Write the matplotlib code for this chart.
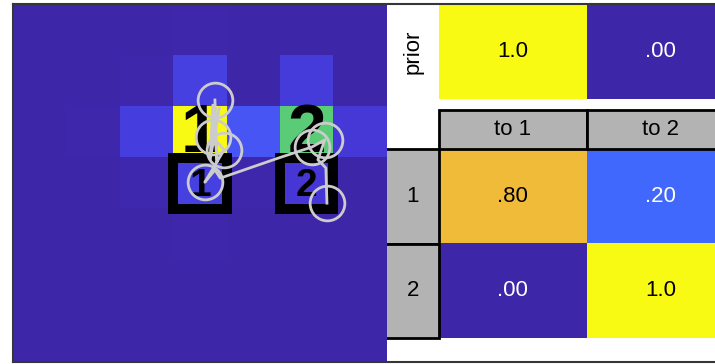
import numpy as np
import matplotlib
matplotlib.use("Agg")
import matplotlib.pyplot as plt
from matplotlib.colors import LinearSegmentedColormap
from matplotlib.patches import Rectangle

plt.rcParams['font.family'] = ['Liberation Sans', 'DejaVu Sans']

# parula-like colormap (every 4th entry of the 64 colour table)
parula_pts = [
    (0.2422, 0.1504, 0.6603), (0.2706, 0.2147, 0.8364), (0.2813, 0.3006, 0.9414),
    (0.2699, 0.3892, 0.9906), (0.1963, 0.4847, 0.9892), (0.1687, 0.5703, 0.9359),
    (0.1248, 0.6459, 0.8883), (0.0297, 0.7082, 0.8163), (0.0964, 0.7500, 0.7120),
    (0.2161, 0.7843, 0.5923), (0.3909, 0.8029, 0.4354), (0.6174, 0.7876, 0.2612),
    (0.8203, 0.7498, 0.1535), (0.9728, 0.7298, 0.2394), (0.9892, 0.8136, 0.1885),
    (0.9597, 0.9135, 0.1423), (0.9769, 0.9839, 0.0805),
]
parula = LinearSegmentedColormap.from_list("parula", parula_pts)

# belief map on the left (rows top -> bottom)
grid_vals = np.array([
    [0.00, 0.000, 0.000, 0.006, 0.000, 0.000, 0.00],
    [0.00, 0.000, 0.006, 0.090, 0.003, 0.075, 0.00],
    [0.00, 0.004, 0.085, 1.000, 0.150, 0.610, 0.07],
    [0.00, 0.000, 0.008, 0.090, 0.004, 0.065, 0.00],
    [0.00, 0.000, 0.000, 0.006, 0.000, 0.000, 0.00],
    [0.00, 0.000, 0.000, 0.000, 0.000, 0.000, 0.00],
    [0.00, 0.000, 0.000, 0.000, 0.000, 0.000, 0.00],
])

state_names = ["1", "2"]
state_cols = [3, 5]
label_rows = [2, 2]   # big labels
box_rows = [3, 3]     # boxed labels

# trajectory (cell units)
traj_x = [3.78, 3.82, 3.74, 3.69, 3.86, 3.74, 3.95, 3.59, 3.78, 3.88, 4.96, 5.60, 5.84, 5.71, 5.86, 5.88]
traj_y = [1.87, 3.08, 1.97, 3.04, 2.03, 2.59, 2.85, 3.48, 3.24, 3.40, 3.01, 2.79, 2.65, 3.04, 3.20, 3.89]
circ_x = [3.78, 3.74, 3.95, 3.59, 5.60, 5.84, 5.88]
circ_y = [1.87, 2.59, 2.85, 3.48, 2.79, 2.65, 3.89]

# tables on the right
prior = [1.0, 0.0]
trans = [[0.8, 0.2], [0.0, 1.0]]
col_labels = ["to 1", "to 2"]
row_labels = ["1", "2"]


def fmt(v):
    if v >= 1:
        return "1.0"
    return ("%.2f" % v)[1:]


def txt_color(v):
    r, g, b, _ = parula(v)
    return "black" if 0.299 * r + 0.587 * g + 0.114 * b > 0.5 else "white"


W, H = 715, 364
fig = plt.figure(figsize=(W / 100, H / 100), dpi=100)


def box(l, t, r, b):
    return [l / W, 1 - b / H, (r - l) / W, (b - t) / H]


# left map
ax = fig.add_axes(box(13.3, 4.5, 386.7, 362))
ax.imshow(grid_vals, cmap=parula, vmin=0, vmax=1, extent=(0, 7, 7, 0),
          interpolation="nearest", aspect="auto")
ax.set_xlim(0, 7)
ax.set_ylim(7, 0)
ax.axis("off")

for name, c, r, br in zip(state_names, state_cols, label_rows, box_rows):
    ax.add_patch(Rectangle((c, br), 1, 1, fill=False, ec="black", lw=7.2, zorder=3))
    ax.text(c + 0.5, r + 0.54, name, fontsize=50, fontweight="bold",
            ha="center", va="center", color="black", zorder=4)
    ax.text(c + 0.5, br + 0.55, name, fontsize=28, fontweight="bold",
            ha="center", va="center", color="black", zorder=4)

ax.plot(traj_x, traj_y, color="#cccccc", lw=2, zorder=6)
ax.plot(circ_x, circ_y, "o", mfc="none", mec="#cccccc", ms=25, mew=2, zorder=6)

# right tables
tb = fig.add_axes(box(386.7, 4.5, 735, 362))
tb.set_xlim(-52 / 148, 2)
tb.set_ylim(3.783, 0)
tb.axis("off")

tb.imshow([prior], cmap=parula, vmin=0, vmax=1, extent=(0, 2, 1, 0), aspect="auto")
tb.text(-26 / 148, 0.5, "prior", rotation=90, ha="center", va="center", fontsize=16)
for j, v in enumerate(prior):
    tb.text(j + 0.5, 0.5, fmt(v), ha="center", va="center", fontsize=16, color=txt_color(v))

tb.imshow(trans, cmap=parula, vmin=0, vmax=1, extent=(0, 2, 3.53, 1.53), aspect="auto")
for i, row in enumerate(trans):
    for j, v in enumerate(row):
        tb.text(j + 0.5, 2.03 + i, fmt(v), ha="center", va="center", fontsize=16,
                color=txt_color(v))

for j, lab in enumerate(col_labels):
    tb.add_patch(Rectangle((j, 1.12), 1, 0.41, fc="#b3b3b3", ec="black", lw=2, zorder=3))
    tb.text(j + 0.5, 1.325, lab, ha="center", va="center", fontsize=16, zorder=4)
for i, lab in enumerate(row_labels):
    tb.add_patch(Rectangle((-0.5, 1.53 + i), 0.5, 1, fc="#b3b3b3", ec="black", lw=2, zorder=3))
    tb.text(-26 / 148, 2.03 + i, lab, ha="center", va="center", fontsize=16, zorder=4)

# outer frame (left/top/bottom)
fr = fig.add_axes(box(13, 3.5, 760, 362))
fr.patch.set_visible(False)
fr.set_xticks([])
fr.set_yticks([])
for s in fr.spines.values():
    s.set_color("#363636")
    s.set_linewidth(1.5)
fr.set_zorder(10)

fig.savefig("out.png", dpi=100)
